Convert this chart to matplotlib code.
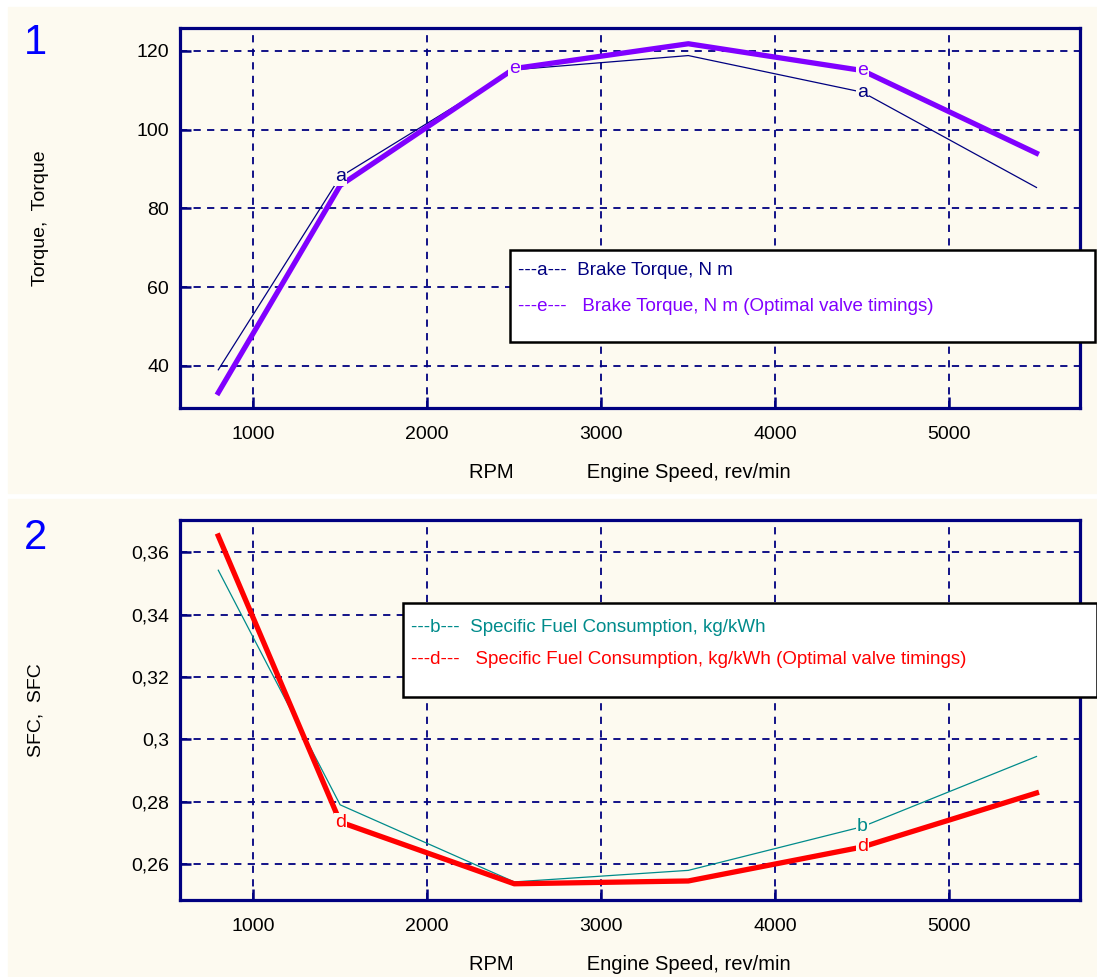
import numpy as np
import matplotlib.pyplot as plt
from matplotlib.patches import Rectangle
from matplotlib.ticker import FuncFormatter

plt.rcParams['font.family'] = ['Liberation Sans', 'DejaVu Sans']

# Data
rpm = [800, 1500, 2500, 3500, 4500, 5500]
torque_a = [39.0, 88.0, 115.2, 118.8, 109.5, 85.3]
torque_e = [33.2, 85.8, 115.5, 121.8, 115.0, 94.0]
sfc_b = [0.3542, 0.2790, 0.2543, 0.2580, 0.2720, 0.2945]
sfc_d = [0.3652, 0.2735, 0.2537, 0.2546, 0.2655, 0.2828]

xticks = [1000, 2000, 3000, 4000, 5000]
torque_ticks = [40, 60, 80, 100, 120]
sfc_ticks = [0.26, 0.28, 0.30, 0.32, 0.34, 0.36]

cream = '#FDFAF0'
navy = '#000080'

W, H = 1097, 977
fig = plt.figure(figsize=(W / 100, H / 100), dpi=100, facecolor='white')

# cream panels with thin white borders
fig.patches.append(Rectangle((8 / W, 1 - 493 / H), 1, 486 / H,
                             transform=fig.transFigure, color=cream, zorder=-10))
fig.patches.append(Rectangle((8 / W, 0), 1, 1 - 499 / H,
                             transform=fig.transFigure, color=cream, zorder=-10))


def style_axes(ax):
    ax.set_facecolor(cream)
    for s in ax.spines.values():
        s.set_color(navy)
        s.set_linewidth(2.3)
    ax.tick_params(direction='in', length=8, width=1.8, color=navy,
                   labelsize=14, top=False, right=False)
    ax.tick_params(axis='x', pad=13)
    ax.tick_params(axis='y', pad=8)
    ax.grid(True, color=navy, linestyle=(0, (4, 3.5)), linewidth=1.3)
    ax.set_xticks(xticks)
    ax.set_xlim(580, 5750)
    ax.set_xlabel('RPM             Engine Speed, rev/min', fontsize=14.5, labelpad=14)


def letter_marks(ax, xs, ys, idx, letter, color):
    for i in idx:
        ax.text(xs[i], ys[i], letter, color=color, fontsize=14, ha='center',
                va='center', zorder=5,
                bbox=dict(boxstyle='square,pad=0.05', fc=cream, ec='none'))


def legend_box(ax, x0, y0, x1, y1, entries, ys):
    ax.add_patch(Rectangle((x0, y0), x1 - x0, y1 - y0, transform=ax.transAxes,
                           facecolor='white', edgecolor='black', linewidth=1.8,
                           clip_on=False, zorder=6))
    for (txt, col), yy in zip(entries, ys):
        ax.text(x0 + 0.009, yy, txt, color=col, fontsize=13.5, va='center',
                ha='left', transform=ax.transAxes, zorder=7, clip_on=False)


# Panel 1: torque
ax1 = fig.add_axes([180 / W, 1 - 408 / H, 900 / W, 380 / H])
style_axes(ax1)
ax1.plot(rpm, torque_a, color=navy, linewidth=0.9, zorder=3)
ax1.plot(rpm, torque_e, color='#8000FF', linewidth=3.8, zorder=4)
letter_marks(ax1, rpm, torque_a, [1, 4], 'a', navy)
letter_marks(ax1, rpm, torque_e, [2, 4], 'e', '#8000FF')
ax1.set_yticks(torque_ticks)
ax1.set_ylim(29.3, 125.8)
ax1.set_ylabel('Torque,  Torque', fontsize=14, labelpad=63)
legend_box(ax1, 0.3667, 0.1737, 1.0167, 0.4158,
           [('---a---  Brake Torque, N m', navy),
            ('---e---   Brake Torque, N m (Optimal valve timings)', '#8000FF')],
           [0.363, 0.268])

# Panel 2: SFC
ax2 = fig.add_axes([180 / W, 1 - 900 / H, 900 / W, 380 / H])
style_axes(ax2)
ax2.plot(rpm, sfc_b, color='#008B8B', linewidth=0.9, zorder=3)
ax2.plot(rpm, sfc_d, color='#FF0000', linewidth=3.8, zorder=4)
letter_marks(ax2, rpm, sfc_b, [4], 'b', '#008B8B')
letter_marks(ax2, rpm, sfc_d, [1, 4], 'd', '#FF0000')
ax2.set_yticks(sfc_ticks)
ax2.yaxis.set_major_formatter(FuncFormatter(lambda v, p: ('%g' % round(v, 3)).replace('.', ',')))
ax2.set_ylim(0.2485, 0.3703)
ax2.set_ylabel('SFC,  SFC', fontsize=14, labelpad=62)
legend_box(ax2, 0.2478, 0.5342, 1.0189, 0.7816,
           [('---b---  Specific Fuel Consumption, kg/kWh', '#008B8B'),
            ('---d---   Specific Fuel Consumption, kg/kWh (Optimal valve timings)', '#FF0000')],
           [0.7158, 0.6316])

# panel numbers
fig.text(35 / W, 1 - 43 / H, '1', color='#0000FF', fontsize=30, ha='center', va='center')
fig.text(35 / W, 1 - 538 / H, '2', color='#0000FF', fontsize=30, ha='center', va='center')

fig.savefig('out.png', dpi=100, facecolor=fig.get_facecolor())
